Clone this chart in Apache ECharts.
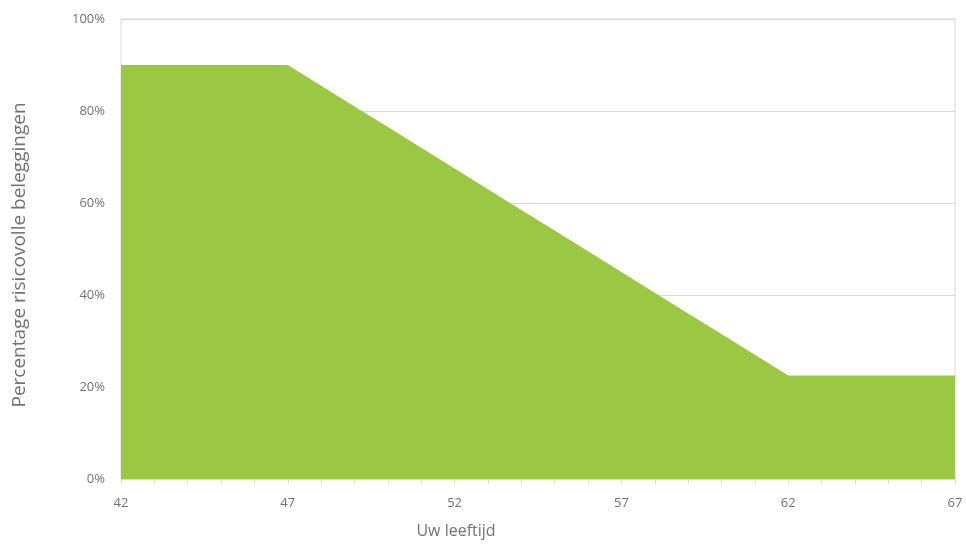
<!DOCTYPE html>
<html>
<head>
<meta charset="utf-8">
<script src="https://cdn.jsdelivr.net/npm/echarts@6/dist/echarts.min.js"></script>
<style>
  html, body { margin: 0; padding: 0; background: #fff; }
  #chart { width: 966px; height: 545px; }
</style>
</head>
<body>
<div id="chart"></div>
<script>
// Leeftijd (jaren) en aandeel risicovolle beleggingen (%)
const ages = [42, 43, 44, 45, 46, 47, 48, 49, 50, 51, 52, 53, 54, 55, 56, 57, 58, 59, 60, 61, 62, 63, 64, 65, 66, 67];
const riskShare = [90, 90, 90, 90, 90, 90, 85.5, 81, 76.5, 72, 67.5, 63, 58.5, 54, 49.5, 45, 40.5, 36, 31.5, 27, 22.5, 22.5, 22.5, 22.5, 22.5, 22.5];
const xAxisTitle = 'Uw leeftijd';
const yAxisTitle = 'Percentage risicovolle beleggingen';

const points = ages.map((a, i) => [a, riskShare[i]]);

const textColor = '#737373';
const labelFont = { fontFamily: 'Open Sans', fontSize: 13, color: textColor };
const gridColor = '#d9d9d9';

const chart = echarts.init(document.getElementById('chart'), null, { renderer: 'canvas' });
chart.setOption({
  animation: false,
  backgroundColor: '#ffffff',
  grid: {
    left: 121, right: 11, top: 19, bottom: 66,
    show: true, borderColor: gridColor, borderWidth: 1
  },
  xAxis: {
    type: 'value',
    min: 42, max: 67, interval: 5,
    name: xAxisTitle,
    nameLocation: 'middle',
    nameGap: 44,
    nameTextStyle: {
      fontFamily: 'Open Sans', fontSize: 16, color: textColor,
      padding: [0, 164, 0, 0]
    },
    axisLine: { show: true, lineStyle: { color: gridColor } },
    axisTick: { show: true, length: 5, lineStyle: { color: gridColor } },
    minorTick: { show: true, splitNumber: 5, length: 5, lineStyle: { color: gridColor } },
    splitLine: { show: false },
    axisLabel: Object.assign({ margin: 18 }, labelFont)
  },
  yAxis: {
    type: 'value',
    min: 0, max: 100, interval: 20,
    name: yAxisTitle,
    nameLocation: 'middle',
    nameGap: 92,
    nameTextStyle: {
      fontFamily: 'Open Sans', fontSize: 19, color: textColor,
      padding: [0, 12, 0, 0]
    },
    axisLine: { show: false },
    axisTick: { show: false },
    splitLine: { show: true, lineStyle: { color: gridColor } },
    axisLabel: Object.assign({ margin: 16, formatter: '{value}%' }, labelFont)
  },
  series: [{
    type: 'line',
    data: points,
    showSymbol: false,
    symbol: 'none',
    lineStyle: { width: 0 },
    areaStyle: { color: '#9bc843', opacity: 1 }
  }]
});
</script>
</body>
</html>
